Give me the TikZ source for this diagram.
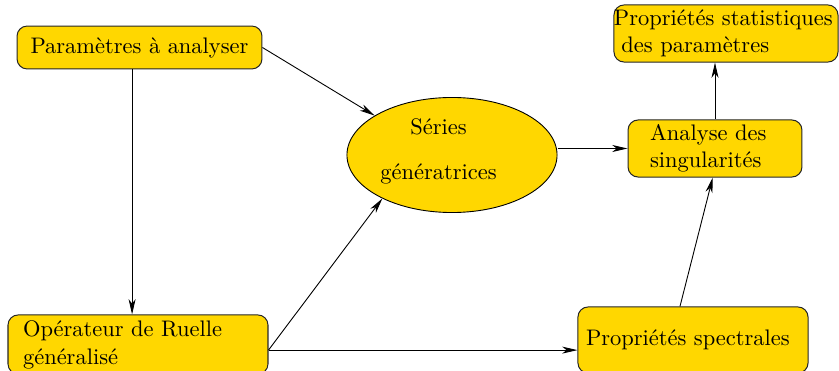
\documentclass[tikz,border=0pt]{standalone}
\usetikzlibrary{arrows.meta,shapes.geometric}
\definecolor{boxgold}{HTML}{FFD700}
\begin{document}
\begin{tikzpicture}[x=0.445pt,y=-0.445pt,
  box/.style={draw=black!85,fill=boxgold,rounded corners=4.5pt,line width=0.45pt,inner ysep=0pt},
  arr/.style={-{Stealth[length=6.8pt,width=3.1pt,inset=2pt]},line width=0.4pt},
]
\useasboundingbox (0,0) rectangle (839,371);

\node[box,minimum width=109pt,minimum height=19.1pt] (p1) at (139.5,47.5) {Paramètres à analyser};

\node[draw=black,fill=boxgold,ellipse,minimum width=93.5pt,minimum height=51.2pt,inner sep=0pt,
  label={[align=center,xshift=-6pt,yshift=1.5pt]center:Séries\\[7.8pt]génératrices}] (ser) at (452,155) {};

\node[box,minimum width=77.4pt,minimum height=25.4pt,inner xsep=9.8pt,text width=57.8pt,align=left] (an) at (715,148.5) {Analyse des\\singularités};

\node[box,minimum width=99.7pt,minimum height=25.4pt,inner xsep=0pt,text width=99.7pt,align=left] (pst) at (726,33.5) {Propriétés statistiques\\\hspace*{3.33pt}des paramètres};

\node[box,minimum width=115.7pt,minimum height=26.3pt,inner xsep=6.7pt,text width=102.3pt,align=left] (op) at (138,344.5) {Opérateur de Ruelle\\[0.5pt]généralisé};

\node[box,minimum width=102.4pt,minimum height=29.4pt,inner xsep=3.6pt,text width=95.2pt,align=left] (ps) at (693,340) {Propriétés spectrales};

\coordinate (c1) at ([xshift=-3.3pt]p1.south);
\coordinate (o) at ([yshift=-2.5pt]op.east);
\coordinate (s1) at ([xshift=-5.8pt]ps.north);
\coordinate (a1) at ([xshift=-1pt]an.south);

\draw[arr] (p1.east) -- (ser.153);
\draw[arr] (c1) -- (c1 |- op.north);
\draw[arr] (o) -- (ser.212);
\draw[arr] (o) -- (o -| ps.west);
\draw[arr] (an.west -| ser.east) -- (an.west);
\draw[arr] (s1) -- (a1);
\draw[arr] (an.north) -- (an.north |- pst.south);
\end{tikzpicture}
\end{document}
